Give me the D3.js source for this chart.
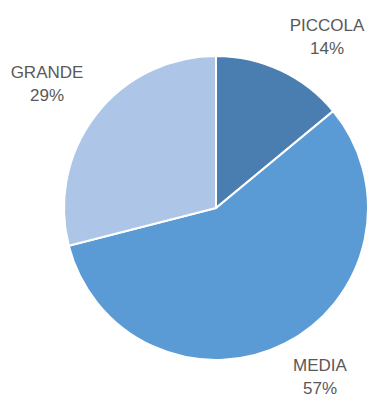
<!DOCTYPE html>
<html>
<head>
<meta charset="utf-8">
<script src="https://cdn.jsdelivr.net/npm/d3@7"></script>
<style>
  body { margin: 0; background: #fff; }
</style>
</head>
<body>
<div id="chart"></div>
<script>
// slice names, values (percent) and colours
var categories = ["PICCOLA", "MEDIA", "GRANDE"];
var values = [14, 57, 29];
var colors = ["#4a7eb0", "#5b9bd5", "#adc5e7"];
// label anchor positions (centre of the first label line)
var labelPos = [[327, 25], [320, 365], [47, 72]];

var width = 370, height = 397;
var cx = 216, cy = 208, r = 152;

var svg = d3.select("#chart").append("svg")
    .attr("width", width)
    .attr("height", height);

var data = categories.map(function (c, i) { return { name: c, value: values[i] }; });

var pie = d3.pie()
    .sort(null)
    .value(function (d) { return d.value; });

var arc = d3.arc().innerRadius(0).outerRadius(r);

var g = svg.append("g").attr("transform", "translate(" + cx + "," + cy + ")");

g.selectAll("path")
    .data(pie(data))
    .enter()
    .append("path")
    .attr("d", arc)
    .style("fill", function (d, i) { return colors[i]; })
    .style("stroke", "#fff")
    .style("stroke-width", 2);

// labels: name + percent
var labels = svg.selectAll("g.lbl")
    .data(data)
    .enter()
    .append("g")
    .attr("class", "lbl")
    .attr("transform", function (d, i) { return "translate(" + labelPos[i][0] + "," + labelPos[i][1] + ")"; });

labels.append("text")
    .attr("text-anchor", "middle")
    .attr("dy", "0.35em")
    .style("font-family", "'Liberation Sans', Arial, sans-serif")
    .style("font-size", "17px")
    .style("fill", "#595959")
    .text(function (d) { return d.name; });

labels.append("text")
    .attr("text-anchor", "middle")
    .attr("y", 23.5)
    .attr("dy", "0.35em")
    .style("font-family", "'Liberation Sans', Arial, sans-serif")
    .style("font-size", "17px")
    .style("fill", "#595959")
    .text(function (d) { return d.value + "%"; });
</script>
</body>
</html>
